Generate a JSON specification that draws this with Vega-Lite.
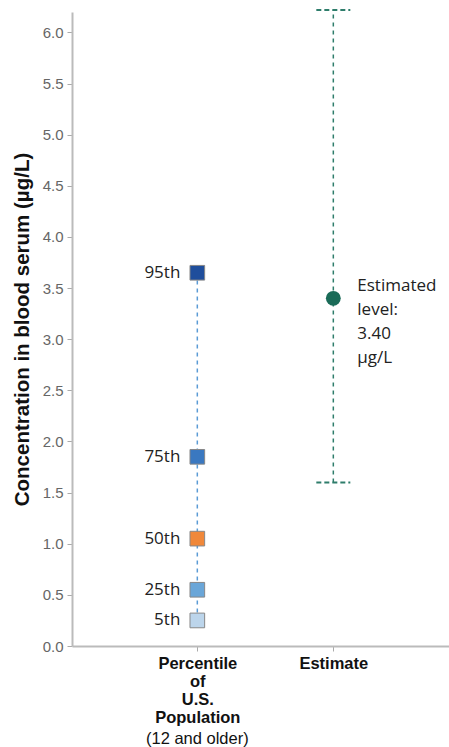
{
  "$schema": "https://vega.github.io/schema/vega-lite/v6.json",
  "width": 377,
  "height": 634,
  "autosize": {"type": "none"},
  "padding": {"left": 72, "top": 12, "right": 0, "bottom": 101},
  "background": "white",
  "config": {"view": {"stroke": null}},
  "datasets": {
    "pct": [
      {"group": "Percentile", "label": "95th", "value": 3.65},
      {"group": "Percentile", "label": "75th", "value": 1.85},
      {"group": "Percentile", "label": "50th", "value": 1.05},
      {"group": "Percentile", "label": "25th", "value": 0.55},
      {"group": "Percentile", "label": "5th", "value": 0.25}
    ],
    "pctRange": [{"group": "Percentile", "low": 0.25, "high": 3.65}],
    "est": [{"group": "Estimate", "value": 3.40, "low": 1.60, "high": 6.22, "text": ["Estimated", "level:", "3.40", "µg/L"]}],
    "caps": [{"group": "Estimate", "value": 1.60}, {"group": "Estimate", "value": 6.22}],
    "sub": [{"group": "Percentile", "value": -0.91, "text": "(12 and older)"}]
  },
  "encoding": {
    "x": {
      "field": "group",
      "type": "nominal",
      "scale": {"type": "point", "domain": ["Percentile", "Estimate"], "padding": 0.886, "align": 0.52},
      "axis": {
        "title": null,
        "labelAngle": 0,
        "labelExpr": "datum.value == 'Percentile' ? ['Percentile', 'of', 'U.S.', 'Population'] : datum.value",
        "labelFont": "Liberation Sans",
        "labelFontWeight": "bold",
        "labelFontSize": 16.5,
        "labelColor": "#111",
        "labelLineHeight": 18,
        "labelPadding": 4,
        "tickSize": 5,
        "tickColor": "#aaa",
        "domainColor": "#bbb",
        "domainWidth": 2
      }
    }
  },
  "layer": [
    {
      "data": {"name": "pctRange"},
      "mark": {"type": "rule", "color": "#5b9bd5", "strokeWidth": 1.5, "strokeDash": [4, 4]},
      "encoding": {
        "y": {
          "field": "low",
          "type": "quantitative",
          "scale": {"domain": [0, 6.2], "nice": false, "zero": false},
          "axis": {
            "title": "Concentration in blood serum (µg/L)",
            "titleFont": "Liberation Sans",
            "titleFontSize": 20.5,
            "titleFontWeight": "bold",
            "titleColor": "#111",
            "titlePadding": 10,
            "values": [0, 0.5, 1, 1.5, 2, 2.5, 3, 3.5, 4, 4.5, 5, 5.5, 6],
            "format": ".1f",
            "labelFont": "Liberation Sans",
            "labelFontSize": 15,
            "labelColor": "#666",
            "labelPadding": 4,
            "tickSize": 5,
            "tickColor": "#aaa",
            "domainColor": "#bbb",
            "domainWidth": 2,
            "grid": false
          }
        },
        "y2": {"field": "high"}
      }
    },
    {
      "data": {"name": "pct"},
      "mark": {"type": "point", "shape": "square", "filled": true, "size": 215, "stroke": "#888", "strokeWidth": 1, "opacity": 1},
      "encoding": {
        "y": {"field": "value", "type": "quantitative"},
        "color": {
          "field": "label",
          "type": "nominal",
          "scale": {"domain": ["95th", "75th", "50th", "25th", "5th"], "range": ["#1f4e9c", "#3a78c0", "#f0883a", "#6aa6d8", "#bcd5eb"]},
          "legend": null
        }
      }
    },
    {
      "data": {"name": "pct"},
      "mark": {"type": "text", "align": "right", "baseline": "middle", "dx": -17, "font": "Open Sans", "fontSize": 17, "color": "#222"},
      "encoding": {
        "y": {"field": "value", "type": "quantitative"},
        "text": {"field": "label"}
      }
    },
    {
      "data": {"name": "est"},
      "mark": {"type": "rule", "color": "#2e7d6b", "strokeWidth": 1.5, "strokeDash": [4, 4]},
      "encoding": {
        "y": {"field": "low", "type": "quantitative"},
        "y2": {"field": "high"}
      }
    },
    {
      "data": {"name": "caps"},
      "mark": {"type": "rule", "color": "#2e7d6b", "strokeWidth": 2, "strokeDash": [5, 3], "xOffset": -17, "x2Offset": 17},
      "encoding": {
        "x2": {"field": "group"},
        "y": {"field": "value", "type": "quantitative"}
      }
    },
    {
      "data": {"name": "est"},
      "mark": {"type": "point", "shape": "circle", "filled": true, "size": 220, "color": "#1a6b58", "opacity": 1},
      "encoding": {
        "y": {"field": "value", "type": "quantitative"}
      }
    },
    {
      "data": {"name": "est"},
      "mark": {"type": "text", "align": "left", "baseline": "top", "dx": 24, "dy": -20, "font": "Open Sans", "fontSize": 17, "lineHeight": 24, "color": "#222"},
      "encoding": {
        "y": {"field": "value", "type": "quantitative"},
        "text": {"field": "text"}
      }
    },
    {
      "data": {"name": "sub"},
      "mark": {"type": "text", "align": "center", "baseline": "middle", "font": "Liberation Sans", "fontSize": 16.5, "color": "#111"},
      "encoding": {
        "y": {"field": "value", "type": "quantitative"},
        "text": {"field": "text"}
      }
    }
  ]
}
